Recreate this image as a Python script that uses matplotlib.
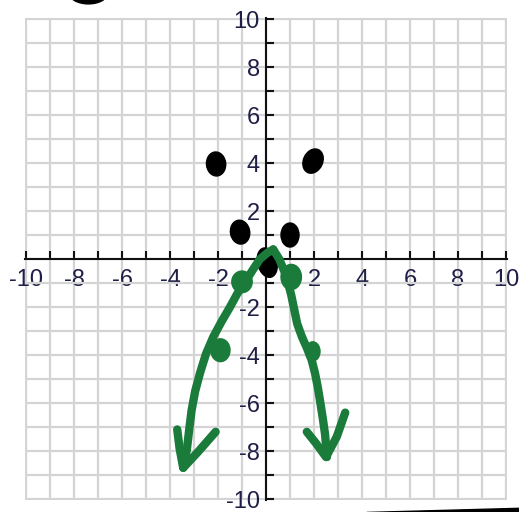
import matplotlib
matplotlib.use("Agg")
import matplotlib.pyplot as plt
from matplotlib.patches import Ellipse, Polygon
from matplotlib.ticker import MultipleLocator

plt.rcParams['font.family'] = ['Liberation Sans', 'DejaVu Sans']
plt.rcParams['axes.unicode_minus'] = False

# tick labels
major_ticks = [-10, -8, -6, -4, -2, 0, 2, 4, 6, 8, 10]
tick_labels = ['-10', '-8', '-6', '-4', '-2', '', '2', '4', '6', '8', '10']

# hand-drawn black dots (x, y, width, height, tilt)
black_x = [-2.08, 1.96, -1.08, 1.0, 0.05]
black_y = [3.96, 4.08, 1.12, 1.0, -0.15]
black_w = [0.8, 0.8, 0.8, 0.75, 0.8]
black_h = [1.0, 1.05, 1.0, 1.0, 1.25]
black_tilt = [5, -25, 10, 0, 15]

# green parabola, drawn in two strokes from the top
left_x = [0.3, 0.05, -0.25, -0.55, -0.875, -1.2, -1.5, -1.85, -2.2, -2.5, -2.75, -2.95, -3.1, -3.2, -3.3, -3.45]
left_y = [0.4, 0.25, 0.0, -0.45, -0.96, -1.45, -2.0, -2.6, -3.25, -3.95, -4.75, -5.5, -6.3, -7.1, -7.96, -8.7]
right_x = [0.3, 0.55, 0.8, 0.92, 1.05, 1.3, 1.5, 1.7, 1.9, 2.04, 2.15, 2.25, 2.36, 2.46, 2.54]
right_y = [0.4, 0.0, -0.6, -1.0, -1.5, -2.7, -3.25, -3.7, -4.2, -4.75, -5.3, -5.9, -6.6, -7.3, -8.25]

# arrowheads: barb, tip, barb
arrow_left_x = [-3.7, -3.6, -3.45, -2.8, -2.1]
arrow_left_y = [-7.1, -7.9, -8.7, -8.0, -7.2]
arrow_right_x = [1.7, 2.1, 2.5, 2.95, 3.3]
arrow_right_y = [-7.2, -7.7, -8.25, -7.4, -6.4]

# green dots on the curve
green_x = [-1.0, -1.9, 1.05, 1.95]
green_y = [-0.95, -3.8, -0.75, -3.85]
green_w = [0.85, 0.8, 0.85, 0.6]
green_h = [0.9, 0.95, 1.05, 0.8]

green = '#1a7b3a'
label_color = '#1e1e46'

fig = plt.figure(figsize=(5.19, 5.12), dpi=100)
ax = fig.add_axes([0.0478, 0.0230, 0.9295, 0.9422])
ax.set_xlim(-10.05, 10.05)
ax.set_ylim(-10.05, 10.05)

for s in ['top', 'right']:
    ax.spines[s].set_visible(False)
for s in ['left', 'bottom']:
    ax.spines[s].set_position('zero')
    ax.spines[s].set_linewidth(1.5)
    ax.spines[s].set_color('#111111')
    ax.spines[s].set_zorder(3)

ax.set_xticks(major_ticks)
ax.set_yticks(major_ticks)
ax.set_xticklabels(tick_labels)
ax.set_yticklabels(tick_labels)
ax.xaxis.set_minor_locator(MultipleLocator(1))
ax.yaxis.set_minor_locator(MultipleLocator(1))
ax.tick_params(which='both', direction='in', length=6, width=1.5, color='#111111')
ax.tick_params(axis='x', which='major', pad=7.5, labelsize=17, labelcolor=label_color)
ax.tick_params(axis='y', which='major', pad=4.5, labelsize=17, labelcolor=label_color)
ax.grid(which='both', color='#d4d4d4', lw=1.6)
ax.set_axisbelow(True)

# black dots
for x, y, w, h, t in zip(black_x, black_y, black_w, black_h, black_tilt):
    ax.add_patch(Ellipse((x, y), w, h, angle=t, color='black', zorder=5))

# green curve
style = dict(color=green, lw=6, solid_capstyle='round', solid_joinstyle='round', zorder=6)
ax.plot(left_x, left_y, **style)
ax.plot(right_x, right_y, **style)
ax.plot(arrow_left_x, arrow_left_y, **style)
ax.plot(arrow_right_x, arrow_right_y, **style)
for x, y, w, h in zip(green_x, green_y, green_w, green_h):
    ax.add_patch(Ellipse((x, y), w, h, color=green, zorder=7))

# stray marks outside the grid
ax.add_patch(Ellipse((-7.4, 11.08), 1.6, 0.9, color='black', clip_on=False))
ax.add_patch(Polygon([(4.2, -10.56), (10.8, -10.38), (10.8, -10.7), (4.2, -10.7)],
                     closed=True, color='black', clip_on=False))

fig.savefig('out.png', dpi=100)
